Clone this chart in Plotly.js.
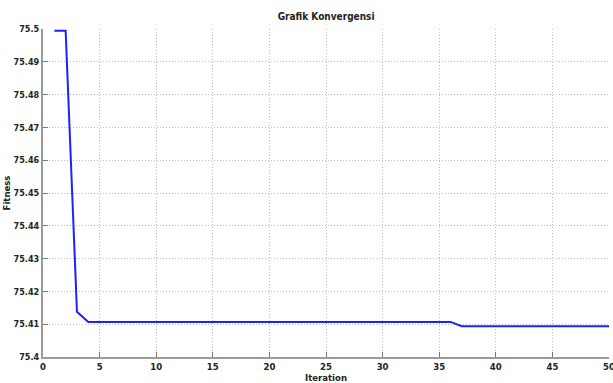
<!DOCTYPE html>
<html>
<head>
<meta charset="utf-8">
<script src="https://cdn.plot.ly/plotly-3.0.1.min.js"></script>
<style>html,body{margin:0;padding:0;background:#fff;}#chart{width:613px;height:383px;}</style>
</head>
<body>
<div id="chart"></div>
<script>
var iterations = [1,2,3,4,5,6,7,8,9,10,11,12,13,14,15,16,17,18,19,20,21,22,23,24,25,26,27,28,29,30,31,32,33,34,35,36,37,38,39,40,41,42,43,44,45,46,47,48,49,50];
var fitness = [75.4995,75.4995,75.4138,75.4107,75.4107,75.4107,75.4107,75.4107,75.4107,75.4107,
  75.4107,75.4107,75.4107,75.4107,75.4107,75.4107,75.4107,75.4107,75.4107,75.4107,
  75.4107,75.4107,75.4107,75.4107,75.4107,75.4107,75.4107,75.4107,75.4107,75.4107,
  75.4107,75.4107,75.4107,75.4107,75.4107,75.4107,75.4094,75.4094,75.4094,75.4094,
  75.4094,75.4094,75.4094,75.4094,75.4094,75.4094,75.4094,75.4094,75.4094,75.4094];
var xTickVals = [0,5,10,15,20,25,30,35,40,45,50];
var yTickVals = [75.4,75.41,75.42,75.43,75.44,75.45,75.46,75.47,75.48,75.49,75.5];
var yTickText = ["75.4","75.41","75.42","75.43","75.44","75.45","75.46","75.47","75.48","75.49","75.5"];

var fam = "DejaVu Sans Condensed, Liberation Sans, sans-serif";
var fnt = {family: fam, size: 9.5, color: "#222", weight: "bold"};
var yfnt = {family: fam, size: 9, color: "#222", weight: "bold"};
var trace = {x: iterations, y: fitness, type: "scatter", mode: "lines",
  line: {color: "#1f1fff", width: 2}, hoverinfo: "none"};
var layout = {
  width: 613, height: 383,
  margin: {l: 43, r: 4, t: 29, b: 26},
  paper_bgcolor: "#fff", plot_bgcolor: "#fff",
  showlegend: false,
  title: {text: "Grafik Konvergensi", font: {family: fam, size: 10, color: "#222", weight: "bold"}, x: 0.532, xanchor: "center", y: 0.958, yanchor: "middle"},
  xaxis: {range: [0, 50], tickvals: xTickVals, ticktext: xTickVals.map(String),
    showgrid: true, gridcolor: "#bdbdbd", griddash: "1px,2px", gridwidth: 1,
    showline: true, linecolor: "#9a9a9a", linewidth: 2, zeroline: false,
    ticks: "inside", ticklen: 5, tickcolor: "#777", tickwidth: 1,
    tickfont: fnt, ticklabeloverflow: "allow",
    title: {text: "Iteration", font: fnt, standoff: 4}},
  yaxis: {range: [75.4, 75.5], tickvals: yTickVals, ticktext: yTickText,
    showgrid: true, gridcolor: "#bdbdbd", griddash: "1px,2px", gridwidth: 1,
    showline: true, linecolor: "#9a9a9a", linewidth: 2, zeroline: false,
    ticks: "inside", ticklen: 5, tickcolor: "#777", tickwidth: 1,
    tickfont: yfnt, ticklabeloverflow: "allow",
    title: {text: "Fitness", font: fnt, standoff: 1}}
};
Plotly.newPlot("chart", [trace], layout, {displayModeBar: false, staticPlot: true});
</script>
</body>
</html>
